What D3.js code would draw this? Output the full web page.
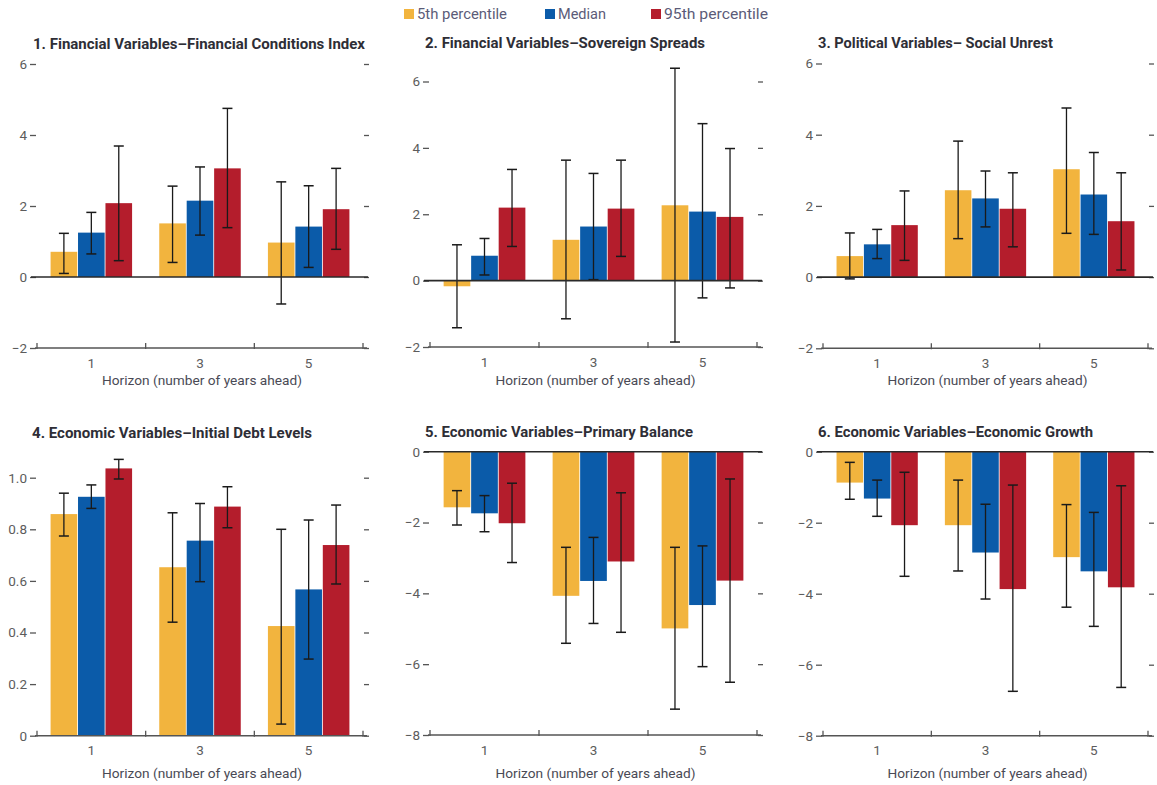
<!DOCTYPE html>
<html>
<head>
<meta charset="utf-8">
<script src="https://cdn.jsdelivr.net/npm/d3@7"></script>
<style>
  html, body { margin: 0; padding: 0; background: #fff; }
  svg { display: block; }
</style>
</head>
<body>
<svg id="chart" width="1157" height="785"></svg>
<script>
// Horizons and series
const horizons = ["1", "3", "5"];
const seriesNames = ["5th percentile", "Median", "95th percentile"];
const seriesColors = ["#F2B43E", "#0B5BA9", "#B41D2C"];

// Tick labels
const ticksSpread = [-2, 0, 2, 4, 6];
const ticksDebt = [0, 0.2, 0.4, 0.6, 0.8, 1.0];
const ticksNegative = [-8, -6, -4, -2, 0];

// Each row is one horizon: [5th percentile, median, 95th percentile]
// 1. Financial conditions index
const fciValue = [[0.71, 1.25, 2.08], [1.51, 2.15, 3.06], [0.97, 1.42, 1.91]];
const fciLow   = [[0.10, 0.65, 0.46], [0.41, 1.18, 1.39], [-0.76, 0.27, 0.78]];
const fciHigh  = [[1.23, 1.82, 3.69], [2.56, 3.10, 4.75], [2.68, 2.57, 3.06]];

// 2. Sovereign spreads
const spreadValue = [[-0.17, 0.75, 2.20], [1.23, 1.63, 2.17], [2.27, 2.08, 1.92]];
const spreadLow   = [[-1.42, 0.17, 1.03], [-1.15, 0.03, 0.73], [-1.85, -0.52, -0.22]];
const spreadHigh  = [[1.08, 1.27, 3.35], [3.63, 3.23, 3.63], [6.40, 4.73, 3.98]];

// 3. Social unrest
const unrestValue = [[0.59, 0.92, 1.46], [2.44, 2.21, 1.92], [3.03, 2.32, 1.57]];
const unrestLow   = [[-0.05, 0.52, 0.47], [1.08, 1.41, 0.85], [1.23, 1.20, 0.20]];
const unrestHigh  = [[1.24, 1.34, 2.42], [3.82, 2.98, 2.93], [4.75, 3.50, 2.93]];

// 4. Initial debt levels
const debtValue = [[0.859, 0.926, 1.036], [0.653, 0.756, 0.888], [0.425, 0.567, 0.739]];
const debtLow   = [[0.774, 0.881, 0.995], [0.440, 0.597, 0.806], [0.045, 0.297, 0.588]];
const debtHigh  = [[0.940, 0.972, 1.071], [0.864, 0.900, 0.965], [0.800, 0.836, 0.894]];

// 5. Primary balance
const balanceValue = [[-1.57, -1.74, -2.02], [-4.07, -3.65, -3.10], [-4.99, -4.33, -3.64]];
const balanceLow   = [[-2.07, -2.26, -3.13], [-5.41, -4.85, -5.10], [-7.27, -6.07, -6.51]];
const balanceHigh  = [[-1.10, -1.24, -0.89], [-2.70, -2.42, -1.16], [-2.70, -2.66, -0.77]];

// 6. Economic growth
const growthValue = [[-0.87, -1.32, -2.07], [-2.07, -2.84, -3.87], [-2.97, -3.37, -3.82]];
const growthLow   = [[-1.34, -1.82, -3.51], [-3.36, -4.15, -6.75], [-4.38, -4.92, -6.64]];
const growthHigh  = [[-0.30, -0.80, -0.58], [-0.80, -1.48, -0.94], [-1.49, -1.71, -0.96]];

const svg = d3.select("#chart");
const FONT = "Roboto, 'Open Sans', sans-serif";
const signed = d => d < 0 ? "\u2212" + Math.abs(d) : d;

const panels = [
  { title: "1. Financial Variables\u2013Financial Conditions Index", titleX: 33, titleY: 49, titleW: 332,
    value: fciValue, low: fciLow, high: fciHigh, ticks: ticksSpread, domain: [-2, 6],
    xr: [37, 363], yr: [348, 64], fmt: signed, zeroLine: true, row: 0 },
  { title: "2. Financial Variables\u2013Sovereign Spreads", titleX: 425, titleY: 48, titleW: 280,
    value: spreadValue, low: spreadLow, high: spreadHigh, ticks: ticksSpread, domain: [-2, 6],
    xr: [430, 757], yr: [347, 81.5], fmt: signed, zeroLine: true, row: 0 },
  { title: "3. Political Variables\u2013 Social Unrest", titleX: 818, titleY: 48, titleW: 235,
    value: unrestValue, low: unrestLow, high: unrestHigh, ticks: ticksSpread, domain: [-2, 6],
    xr: [823, 1148], yr: [348.3, 63.5], fmt: signed, zeroLine: true, row: 0 },
  { title: "4. Economic Variables\u2013Initial Debt Levels", titleX: 32, titleY: 438, titleW: 280,
    value: debtValue, low: debtLow, high: debtHigh, ticks: ticksDebt, domain: [0, 1.0],
    xr: [37, 363], yr: [735.7, 477.7], fmt: d => d === 0 ? "0" : d3.format(".1f")(d), zeroLine: false, row: 1 },
  { title: "5. Economic Variables\u2013Primary Balance", titleX: 425, titleY: 437, titleW: 268,
    value: balanceValue, low: balanceLow, high: balanceHigh, ticks: ticksNegative, domain: [-8, 0],
    xr: [430, 757], yr: [735, 451.7], fmt: signed, zeroLine: true, row: 1 },
  { title: "6. Economic Variables\u2013Economic Growth", titleX: 818, titleY: 437, titleW: 275,
    value: growthValue, low: growthLow, high: growthHigh, ticks: ticksNegative, domain: [-8, 0],
    xr: [823, 1148], yr: [735.7, 451.7], fmt: signed, zeroLine: true, row: 1 }
];

panels.forEach(p => {
  const g = svg.append("g");
  const x0 = d3.scaleBand().domain(horizons).range(p.xr).paddingInner(0.25).paddingOuter(0.125);
  const x1 = d3.scaleBand().domain(seriesNames).range([0, x0.bandwidth()]).paddingInner(0.03);
  const y = d3.scaleLinear().domain(p.domain).range(p.yr);
  const color = d3.scaleOrdinal().domain(seriesNames).range(seriesColors);

  // Title
  g.append("text")
    .attr("x", p.titleX).attr("y", p.titleY)
    .attr("textLength", p.titleW).attr("lengthAdjust", "spacingAndGlyphs")
    .attr("font-family", FONT).attr("font-weight", 700).attr("font-size", 14.5)
    .attr("fill", "#2e2e36")
    .text(p.title);

  // Left axis: labels with short ticks, no domain line
  const left = g.append("g").attr("transform", `translate(${p.xr[0] - 1},0)`)
    .call(d3.axisLeft(y).tickValues(p.ticks).tickSize(6).tickPadding(3).tickFormat(p.fmt));
  left.select(".domain").remove();
  left.selectAll("line").attr("stroke", "#555").attr("stroke-width", 1.3);
  left.selectAll("text").attr("font-family", FONT).attr("font-size", 13.5).attr("fill", "#5c5c5c");

  // Right axis: ticks only
  const right = g.append("g").attr("transform", `translate(${p.xr[1] + 1},0)`)
    .call(d3.axisRight(y).tickValues(p.ticks).tickSize(5).tickFormat(""));
  right.select(".domain").remove();
  right.selectAll("line").attr("stroke", "#555").attr("stroke-width", 1.3);

  // Bars
  const groups = g.selectAll(".grp").data(horizons).join("g")
    .attr("transform", h => `translate(${x0(h)},0)`);
  groups.each(function(h, i) {
    const rows = seriesNames.map((s, j) => ({ s, v: p.value[i][j] }));
    d3.select(this).selectAll("rect").data(rows).join("rect")
      .attr("x", d => x1(d.s))
      .attr("width", x1.bandwidth())
      .attr("y", d => y(Math.max(0, d.v)))
      .attr("height", d => Math.abs(y(d.v) - y(0)))
      .attr("fill", d => color(d.s));
  });

  // Bottom axis line with boundary ticks
  const yb = y(p.domain[0]);
  const xAxisG = g.append("g").attr("transform", `translate(0,${yb})`)
    .call(d3.axisBottom(x0).tickSize(0).tickPadding(10));
  xAxisG.select(".domain").remove();
  xAxisG.selectAll("text").attr("font-family", FONT).attr("font-size", 13.5).attr("fill", "#5c5c5c");
  g.append("line").attr("x1", p.xr[0] - 2).attr("x2", p.xr[1] + 4)
    .attr("y1", yb).attr("y2", yb).attr("stroke", "#555").attr("stroke-width", 1.6);
  const step = x0.step();
  const bounds = [p.xr[0]].concat(horizons.slice(1).map(h => x0(h) - step * x0.paddingInner() / 2)).concat([p.xr[1]]);
  g.selectAll(".btick").data(bounds).join("line")
    .attr("x1", d => d).attr("x2", d => d)
    .attr("y1", yb - 5).attr("y2", yb + 1)
    .attr("stroke", "#555").attr("stroke-width", 1.3);

  // Zero line
  if (p.zeroLine) {
    g.append("line").attr("x1", p.xr[0] - 6).attr("x2", p.xr[1] + 5)
      .attr("y1", y(0)).attr("y2", y(0))
      .attr("stroke", "#2a2a2a").attr("stroke-width", 1.6);
  }

  // Error bars
  groups.each(function(h, i) {
    const rows = seriesNames.map((s, j) => ({ s, lo: p.low[i][j], hi: p.high[i][j] }));
    const cx = d => x1(d.s) + x1.bandwidth() / 2;
    const eb = d3.select(this).selectAll(".eb").data(rows).join("g");
    eb.append("line").attr("x1", cx).attr("x2", cx)
      .attr("y1", d => y(d.lo)).attr("y2", d => y(d.hi))
      .attr("stroke", "#1a1a1a").attr("stroke-width", 1.3);
    ["lo", "hi"].forEach(k => {
      eb.append("line").attr("x1", d => cx(d) - 5).attr("x2", d => cx(d) + 5)
        .attr("y1", d => y(d[k])).attr("y2", d => y(d[k]))
        .attr("stroke", "#1a1a1a").attr("stroke-width", 1.5);
    });
  });

  // Axis title
  g.append("text")
    .attr("x", (p.xr[0] + p.xr[1]) / 2 + 2).attr("y", p.row === 0 ? 385 : 778)
    .attr("text-anchor", "middle")
    .attr("textLength", 200).attr("lengthAdjust", "spacingAndGlyphs")
    .attr("font-family", FONT).attr("font-size", 13.5).attr("fill", "#4a4a55")
    .text("Horizon (number of years ahead)");
});

// Legend
const legendX = [404, 545, 651];
const legendW = [90, 48, 104];
const legend = svg.append("g");
seriesNames.forEach((s, i) => {
  legend.append("rect").attr("x", legendX[i]).attr("y", 9).attr("width", 10).attr("height", 10)
    .attr("fill", seriesColors[i]);
  legend.append("text").attr("x", legendX[i] + 13).attr("y", 19)
    .attr("textLength", legendW[i]).attr("lengthAdjust", "spacingAndGlyphs")
    .attr("font-family", FONT).attr("font-size", 14).attr("fill", "#5b5b78")
    .text(s);
});
</script>
</body>
</html>
